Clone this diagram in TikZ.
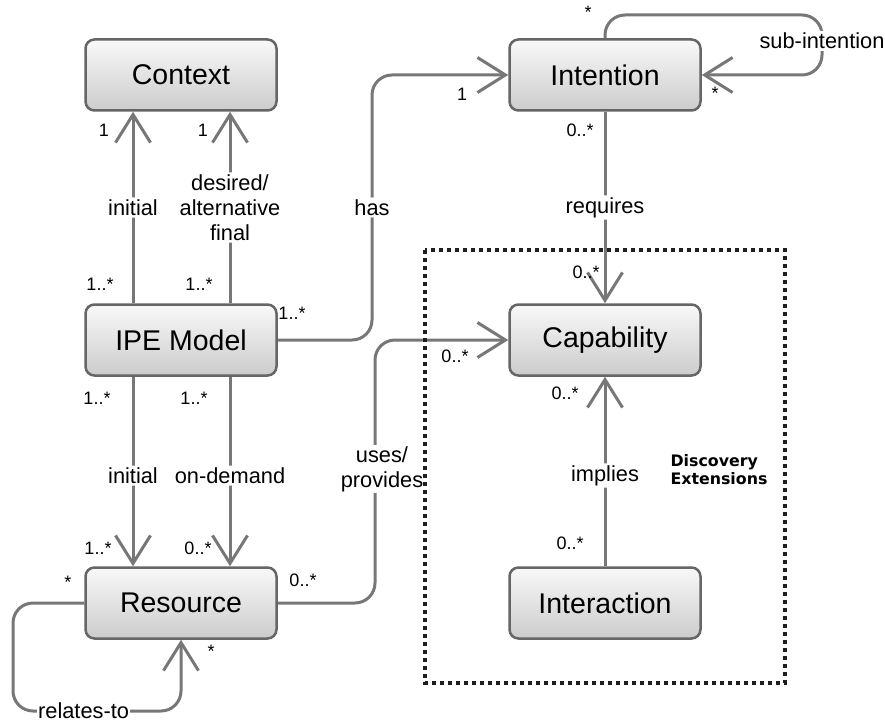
\documentclass[tikz,border=0pt]{standalone}
\usepackage{fontspec}
\setmainfont{Liberation Sans}
\newfontfamily\notefont{DejaVu Sans}
\usetikzlibrary{arrows.meta}

\definecolor{edgegray}{HTML}{777777}
\definecolor{boxborder}{HTML}{666666}
\definecolor{framegray}{HTML}{1E1E1E}

\begin{document}
\begin{tikzpicture}[x=1pt,y=-1pt,
  cls/.style={draw=boxborder, line width=2.5pt, rounded corners=9pt,
    minimum width=191pt, minimum height=71pt, inner sep=0pt,
    top color=gray!5, bottom color=gray!40,
    font=\fontsize{28.5}{32}\selectfont},
  assoc/.style={draw=edgegray, line width=3pt, rounded corners=20pt},
  nav/.style={-{Straight Barb[length=28pt,width=35pt]}},
  lbl/.style={fill=white, inner sep=2pt, align=center,
    font=\fontsize{21.8}{25}\selectfont},
  mult/.style={inner sep=0pt, font=\fontsize{18}{20}\selectfont}
]
\useasboundingbox (0,0) rectangle (885,722);

% classes
\node[cls] (context)     at (181,75)  {Context};
\node[cls] (intention)   at (605,75)  {Intention};
\node[cls] (ipe)         at (181,340) {IPE Model};
\node[cls] (capability)  at (605,340) {Capability};
\node[cls] (resource)    at (181,603) {Resource};
\node[cls] (interaction) at (605,603) {Interaction};

% bend points of the routed associations
\coordinate (hasx) at (372,0);
\coordinate (usex) at (375,0);
\coordinate (subtop) at (822,15);
\coordinate (relx) at (13,0);
\coordinate (relbot) at (0,711);

% IPE Model -> Context
\draw[assoc,nav] ([xshift=-48pt]ipe.north) -- node[lbl]{initial} ([xshift=-48pt]context.south);
\draw[assoc,nav] ([xshift=49pt]ipe.north) -- node[lbl]{desired/\\alternative\\final} ([xshift=49pt]context.south);

% IPE Model -> Intention
\draw[assoc,nav] (ipe.east) -- (ipe.east -| hasx) -- node[lbl]{has} (intention.west -| hasx) -- (intention.west);

% Intention self association
\draw[assoc,nav] (intention.north) -- (intention.north |- subtop) -- (subtop)
  -- node[lbl,pos=0.43]{sub-intention} (subtop |- intention.east) -- (intention.east);

% Intention -> Capability
\draw[assoc,nav] (intention.south) -- node[lbl]{requires} (capability.north);

% IPE Model -> Resource
\draw[assoc,nav] ([xshift=-48pt]ipe.south) -- node[lbl,yshift=-4pt]{initial} ([xshift=-48pt]resource.north);
\draw[assoc,nav] ([xshift=49pt]ipe.south) -- node[lbl,yshift=-4pt]{on-demand} ([xshift=49pt]resource.north);

% Resource -> Capability
\draw[assoc,nav] (resource.east) -- (resource.east -| usex) -- (capability.west -| usex) -- (capability.west);
\node[lbl, inner sep=1pt] (useslbl) at (382,469) {uses/\\provides};

% Interaction -> Capability
\draw[assoc,nav] (interaction.north) -- node[lbl,yshift=-4pt]{implies} (capability.south);

% Resource self association
\draw[assoc,nav] (resource.west) -- (resource.west -| relx) -- (relx |- relbot)
  -- node[lbl,pos=0.42,inner sep=1pt]{relates-to} (resource.south |- relbot) -- (resource.south);

% discovery extensions frame
\draw[framegray, line width=4pt, dash pattern=on 4pt off 4pt]
  (425,250) rectangle (785,683);
\node[align=left, inner sep=0pt, font=\notefont\bfseries\fontsize{15.8}{18}\selectfont]
  (ext) at (719,470) {Discovery\\Extensions};

% multiplicities
\node[mult] (m1)  at (104,130) {1};
\node[mult] (m2)  at (203,130) {1};
\node[mult] (m3)  at (100,284) {1..*};
\node[mult] (m4)  at (199,284) {1..*};
\node[mult] (m5)  at (292,313) {1..*};
\node[mult] (m6)  at (462,94)  {1};
\node[mult] (m7)  at (588,12)  {*};
\node[mult] (m8)  at (715,93)  {*};
\node[mult] (m9)  at (580,130) {0..*};
\node[mult] (m10) at (586,272) {0..*};
\node[mult] (m11) at (455,356) {0..*};
\node[mult] (m12) at (565,393) {0..*};
\node[mult] (m13) at (570,543) {0..*};
\node[mult] (m14) at (97,398)  {1..*};
\node[mult] (m15) at (194,398) {1..*};
\node[mult] (m16) at (98,548)  {1..*};
\node[mult] (m17) at (198,548) {0..*};
\node[mult] (m18) at (303,580) {0..*};
\node[mult] (m19) at (68,582)  {*};
\node[mult] (m20) at (211,651) {*};
\end{tikzpicture}
\end{document}
